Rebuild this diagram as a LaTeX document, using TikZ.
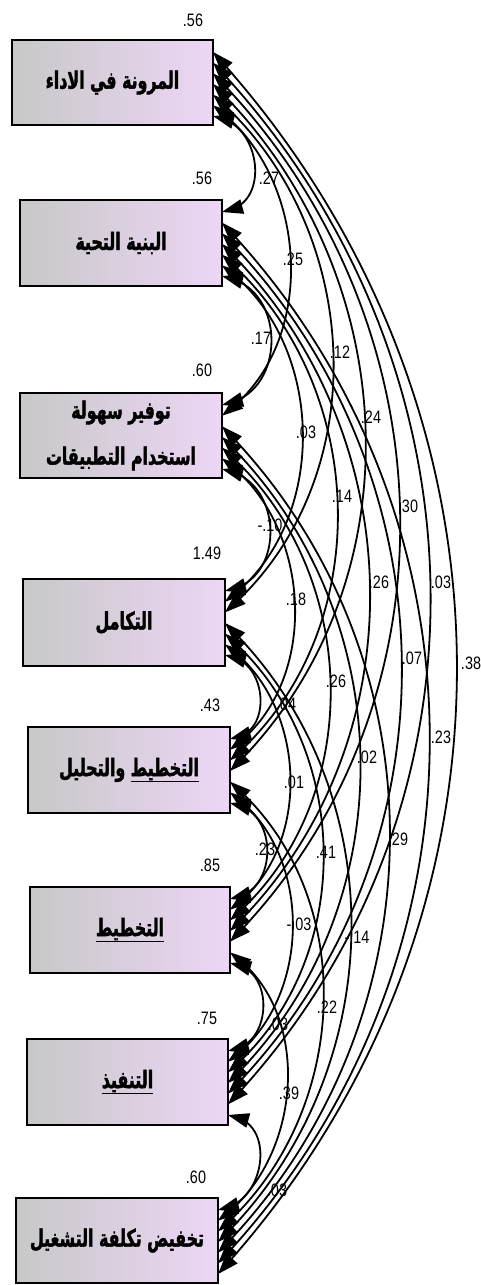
\documentclass[tikz,border=0pt]{standalone}
\usepackage{fontspec}
\TeXXeTstate=1
\newfontfamily\arabicfont[Script=Arabic,FakeStretch=0.66,FakeBold=1.6]{DejaVu Sans}
\newfontfamily\numfont[FakeStretch=0.8]{Liberation Sans}
\newcommand\ar[1]{{\arabicfont\bfseries\beginR #1\endR}}
\definecolor{boxL}{RGB}{200,200,200}
\definecolor{boxR}{RGB}{236,214,245}
\begin{document}
\begin{tikzpicture}[x=1pt,y=-1pt,
  box/.style={draw=black, line width=2.4pt, left color=boxL, right color=boxR,
    inner sep=0pt, outer sep=0pt, font=\fontsize{24}{46}\selectfont, align=center},
  num/.style={font=\numfont\fontsize{18}{18}\selectfont, inner sep=0pt},
  cov/.style={line width=1.8pt, shorten <=8pt, shorten >=8pt},
  head/.style={fill=black}]
\useasboundingbox (0,0) rectangle (481,1285);

\node[box, minimum width=201pt, minimum height=85pt] (b1) at (112.5,82.5) {\ar{المرونة في الاداء}};
\node[box, minimum width=202pt, minimum height=86pt] (b2) at (121,243) {\ar{البنية التحية}};
\node[box, minimum width=202pt, minimum height=85pt] (b3) at (121,435.5) {\ar{توفير سهولة}\\\ar{استخدام التطبيقات}};
\node[box, minimum width=202pt, minimum height=87pt] (b4) at (124,622.5) {\ar{التكامل}};
\node[box, minimum width=202pt, minimum height=86pt] (b5) at (129,770) {\ar{\underline{\ar{التخطيط}} والتحليل}};
\node[box, minimum width=200pt, minimum height=86pt] (b6) at (130,930) {\ar{\underline{\ar{التخطيط}}}};
\node[box, minimum width=201pt, minimum height=86pt] (b7) at (127.5,1082) {\ar{\underline{\ar{التنفيذ}}}};
\node[box, minimum width=202pt, minimum height=85pt] (b8) at (117,1240.5) {\ar{تخفيض تكلفة التشغيل}};

\foreach \k in {1,...,8}{
  \foreach \m in {1,...,8}{
    \ifnum\k=\m\relax\else
      \pgfmathtruncatemacro\slot{\m<\k ? \k-\m-1 : 7-\m+\k}
      \coordinate (s\k-\m) at ([yshift={-(12pt+\slot*10.67pt)}]b\k.north east);
    \fi
  }
}

\foreach \k in {1,...,7}{
  \pgfmathtruncatemacro\kk{\k+1}
  \foreach \m in {\kk,...,8}{
    \pgfmathtruncatemacro\d{\m-\k}
    \pgfmathsetmacro\ang{{75,52,48,45,44,43,42}[\d-1]}
    \pgfmathsetmacro\loose{\d==1 ? 1.3 : 1}
    \pgfmathsetmacro\ya{{40,200,393,579,727,887,1039,1198}[\k-1] + 12 + (7-\m+\k)*10.67}
    \pgfmathsetmacro\yb{{40,200,393,579,727,887,1039,1198}[\m-1] + 12 + (\m-\k-1)*10.67}
    \pgfmathsetmacro\L{\loose*0.3915*(\yb-\ya)}
    \pgfmathsetmacro\sa{sin(\ang)}
    \pgfmathsetmacro\ca{cos(\ang)}
    \pgfmathsetmacro\cx{\L*\sa}
    \pgfmathsetmacro\cy{\L*\ca}
    \draw[cov] (s\k-\m) .. controls ([shift={(\cx,\cy)}]s\k-\m) and ([shift={(\cx,-\cy)}]s\m-\k) .. (s\m-\k);
    \fill[head] (s\k-\m) -- ++({21*\sa+7.5*\ca},{21*\ca-7.5*\sa}) -- ++({-15*\ca},{15*\sa}) -- cycle;
    \fill[head] (s\m-\k) -- ++({21*\sa+7.5*\ca},{-21*\ca+7.5*\sa}) -- ++({-15*\ca},{-15*\sa}) -- cycle;
  }
}

\node[num] (v1) at (193,20) {.56};
\node[num] (v2) at (202,178) {.56};
\node[num] (v3) at (202,370) {.60};
\node[num] (v4) at (207,553) {1.49};
\node[num] (v5) at (210,705) {.43};
\node[num] (v6) at (210,865) {.85};
\node[num] (v7) at (207,1018) {.75};
\node[num] (v8) at (196,1177) {.60};

\node[num] (c12) at (269,178) {.27};
\node[num] (c13) at (293,259) {.25};
\node[num] (c23) at (261,338) {.17};
\node[num] (c14) at (340,352) {.12};
\node[num] (c24) at (306,432) {.03};
\node[num] (c15) at (371,417) {.24};
\node[num] (c25) at (342,496) {.14};
\node[num] (c16) at (408,506) {.30};
\node[num] (c34) at (270,525) {-.10};
\node[num] (c26) at (379,582) {.26};
\node[num] (c17) at (441,582) {.03};
\node[num] (c18) at (471,663) {.38};
\node[num] (c35) at (296,599) {.18};
\node[num] (c27) at (412,658) {.07};
\node[num] (c36) at (336,681) {.26};
\node[num] (c45) at (286,704) {.04};
\node[num] (c28) at (441,737) {.23};
\node[num] (c37) at (367,757) {.02};
\node[num] (c46) at (294,782) {.01};
\node[num] (c38) at (398,839) {.29};
\node[num] (c56) at (265,849) {.23};
\node[num] (c47) at (326,852) {.41};
\node[num] (c57) at (299,924) {-.03};
\node[num] (c48) at (357,937) {-.14};
\node[num] (c58) at (327,1007) {.22};
\node[num] (c67) at (278,1024) {.03};
\node[num] (c68) at (289,1093) {.39};
\node[num] (c78) at (277,1190) {.03};
\end{tikzpicture}
\end{document}
